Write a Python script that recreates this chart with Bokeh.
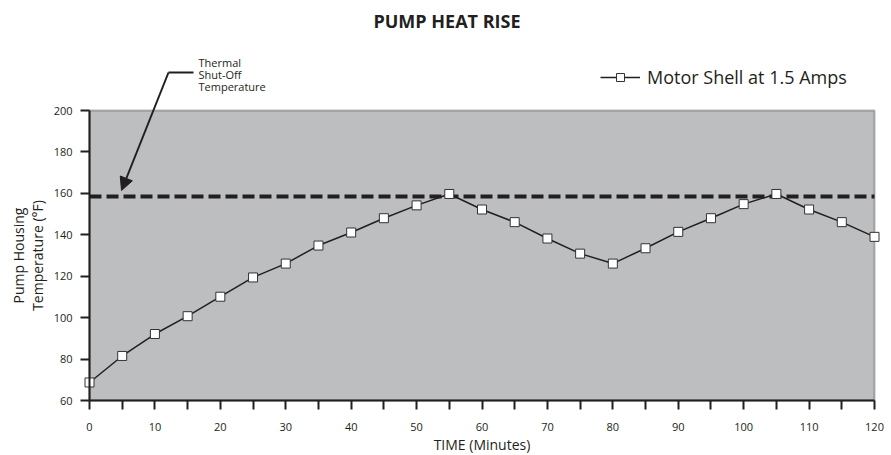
from bokeh.plotting import figure
from bokeh.models import (Range1d, FixedTicker, Label, Arrow, NormalHead, Legend, LegendItem,
                          BoxAnnotation, LinearAxis)
from bokeh.embed import file_html
from bokeh.resources import INLINE

# ---- data ----
time_min = [0, 5, 10, 15, 20, 25, 30, 35, 40, 45, 50, 55, 60,
            65, 70, 75, 80, 85, 90, 95, 100, 105, 110, 115, 120]
temp_f = [68.7, 81.5, 92.1, 100.7, 110.1, 119.4, 126.1, 134.8, 141.1, 148.0, 154.2, 159.7, 152.2,
          146.1, 138.2, 130.9, 126.1, 133.5, 141.4, 148.0, 154.8, 159.7, 152.2, 146.1, 139.0]
shutoff_temp = 158.5
x_major_ticks = [0, 10, 20, 30, 40, 50, 60, 70, 80, 90, 100, 110, 120]
x_minor_ticks = [5, 15, 25, 35, 45, 55, 65, 75, 85, 95, 105, 115]
y_ticks = [60, 80, 100, 120, 140, 160, 180, 200]
series_name = "Motor Shell at 1.5 Amps"
title_text = "PUMP HEAT RISE"
note_lines = ["Thermal", "Shut-Off", "Temperature"]
x_axis_title = "TIME (Minutes)"
y_axis_title = "Pump Housing\nTemperature (\u00b0F)"

FONT = "Open Sans"
INK = "#231F20"

# ---- layout: the frame fills the whole canvas; the plotting box is drawn inside it ----
W, H = 891, 455
PAGE = 0
# reference pixel positions of the plotting box (screenshot coordinates)
BX0, BX1, BY0, BY1 = 89, 874, 110, 400
xmin, xmax = x_major_ticks[0], x_major_ticks[-1]
ymin, ymax = y_ticks[0], y_ticks[-1]
sx = (BX1 - BX0) / (xmax - xmin)
sy = (BY1 - BY0) / (ymax - ymin)
x_lo = xmin - (BX0 - PAGE) / sx
x_hi = xmax + (PAGE + W - BX1) / sx
y_lo = ymin - (PAGE + H - BY1) / sy
y_hi = ymax + (BY0 - PAGE) / sy

def ref_x(px):
    return xmin + (px - BX0) / sx
def ref_y(py):
    return ymin + (BY1 - py) / sy

p = figure(width=W, height=H, x_range=Range1d(x_lo, x_hi), y_range=Range1d(y_lo, y_hi),
           output_backend="svg", toolbar_location=None, x_axis_type=None, y_axis_type=None,
           min_border=0)
p.background_fill_color = "white"
p.border_fill_color = "white"
p.outline_line_color = None
p.grid.visible = False

# plotting box
p.add_layout(BoxAnnotation(left=xmin, right=xmax, bottom=ymin, top=ymax,
                           fill_color="#BCBEC0", fill_alpha=1.0,
                           line_color=INK, line_width=2, level="underlay"))

# axes at fixed locations
xaxis = LinearAxis(fixed_location=ymin, bounds=(xmin, xmax),
                   ticker=FixedTicker(ticks=x_major_ticks, minor_ticks=x_minor_ticks),
                   axis_label=x_axis_title)
yaxis = LinearAxis(fixed_location=xmin, bounds=(ymin, ymax),
                   ticker=FixedTicker(ticks=y_ticks), axis_label=y_axis_title)
for ax in (xaxis, yaxis):
    ax.axis_line_color = INK
    ax.axis_line_width = 2
    ax.major_tick_line_color = INK
    ax.major_tick_line_width = 2
    ax.major_tick_in = 0
    ax.major_tick_out = 9
    ax.minor_tick_line_color = INK
    ax.minor_tick_line_width = 2
    ax.minor_tick_in = 0
    ax.minor_tick_out = 9
    ax.major_label_text_font = FONT
    ax.major_label_text_font_size = "11px"
    ax.major_label_text_color = INK
    ax.axis_label_text_font = FONT
    ax.axis_label_text_font_size = "14px"
    ax.axis_label_text_font_style = "normal"
    ax.axis_label_text_color = INK
xaxis.major_label_standoff = 13
xaxis.axis_label_standoff = 1
yaxis.major_label_standoff = 8
yaxis.axis_label_standoff = 4
yaxis.axis_label_text_line_height = 1.0
p.add_layout(xaxis, "below")
p.add_layout(yaxis, "left")

# thermal shut-off line
p.line([xmin, xmax], [shutoff_temp, shutoff_temp], line_color=INK, line_width=4, line_dash="12 5")

# data series
r_line = p.line(time_min, temp_f, line_color=INK, line_width=1.5)
r_pts = p.scatter(time_min, temp_f, marker="square", size=9, fill_color="white",
                  line_color="#333333", line_width=1)

legend = Legend(items=[LegendItem(label=series_name, renderers=[r_line, r_pts])],
                location=(600 - PAGE, PAGE + H - 89), glyph_width=40, glyph_height=20,
                label_standoff=7, padding=0, margin=0, border_line_color=None,
                background_fill_alpha=0, label_text_font=FONT, label_text_font_size="18px",
                label_text_color=INK)
p.add_layout(legend, "center")

# title
p.add_layout(Label(x=ref_x(446.5), y=ref_y(20), text=title_text, text_align="center",
                   text_baseline="middle", text_font=FONT, text_font_size="18px",
                   text_font_style="bold", text_color=INK))

# callout text
for i, line in enumerate(note_lines):
    p.add_layout(Label(x=ref_x(198), y=ref_y(61.5 + 12 * i), text=line, text_align="left",
                       text_baseline="middle", text_font=FONT, text_font_size="11px",
                       text_color=INK))

# callout leader + arrow
p.add_layout(Arrow(end=None, x_start=ref_x(168), y_start=ref_y(72), x_end=ref_x(193), y_end=ref_y(72),
                   line_color=INK, line_width=2))
p.add_layout(Arrow(end=NormalHead(size=13, fill_color=INK, line_color=INK, line_width=1),
                   x_start=ref_x(168), y_start=ref_y(72), x_end=ref_x(121), y_end=ref_y(190),
                   line_color=INK, line_width=2))

open("out.html", "w").write(file_html(p, INLINE))
